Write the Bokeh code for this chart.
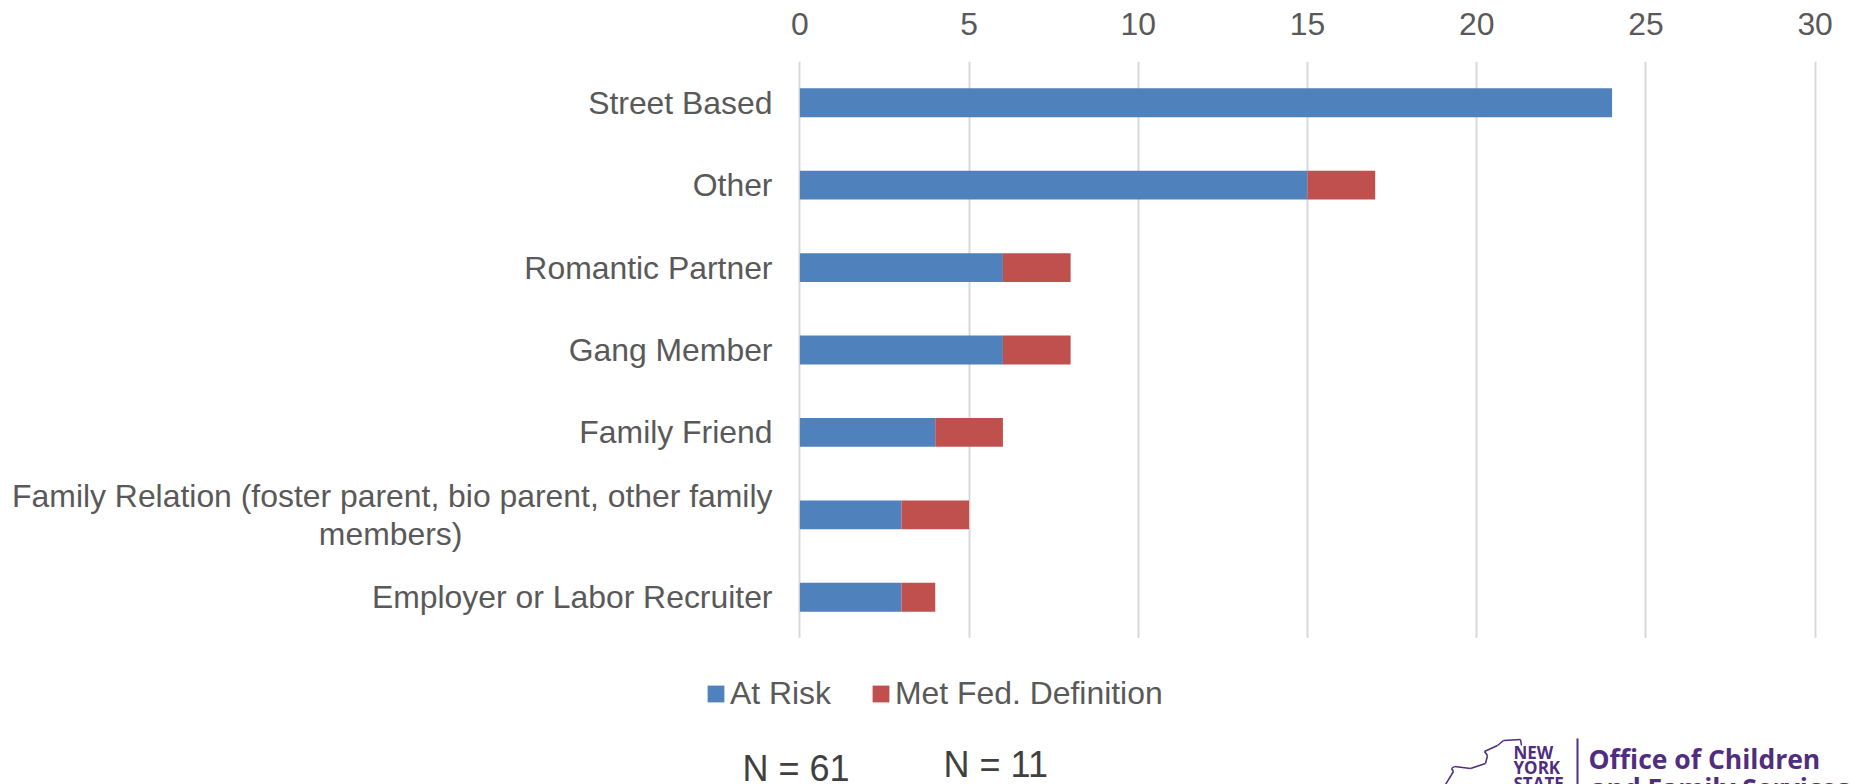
from bokeh.plotting import figure
from bokeh.layouts import column
from bokeh.models import (ColumnDataSource, FactorRange, Range1d, Legend, LegendItem, Label,
                          FixedTicker, BoxAnnotation, Arrow)
from bokeh.embed import file_html
from bokeh.resources import INLINE

categories = ["Street Based", "Other", "Romantic Partner", "Gang Member", "Family Friend",
              "Family Relation (foster parent, bio parent, other family\nmembers)" + "\u00a0" * 35,
              "Employer or Labor Recruiter"]
at_risk = [24, 15, 6, 6, 4, 3, 3]
met_fed = [0, 2, 2, 2, 2, 2, 1]
x_ticks = [0, 5, 10, 15, 20, 25, 30]
series_names = ["At Risk", "Met Fed. Definition"]
series_colors = ["#4F81BD", "#C0504D"]

W = 1850
H_MAIN, H_FOOT = 638, 146
GREY = "#595959"
PURPLE = "#4F2D7F"
FONT = "Liberation Sans"

p = figure(width=W, height=H_MAIN, output_backend="svg", toolbar_location=None,
           x_range=Range1d(-0.1, 30.1), y_range=FactorRange(factors=categories[::-1]),
           x_axis_location="above", frame_align=False,
           min_border_left=796, min_border_right=32, min_border_top=61, min_border_bottom=0)
p.outline_line_color = None
p.background_fill_color = "white"

source = ColumnDataSource(dict(cat=categories, at=at_risk, met=met_fed))
p.hbar_stack(["at", "met"], y="cat", height=0.35, fill_color=series_colors,
             line_color=None, source=source)

p.ygrid.visible = False
p.xgrid.grid_line_color = "#D9D9D9"
p.xgrid.grid_line_width = 2
p.xgrid.ticker = FixedTicker(ticks=x_ticks)

xa = p.xaxis[0]
xa.ticker = FixedTicker(ticks=x_ticks)
xa.axis_line_color = None
xa.major_tick_line_color = None
xa.minor_tick_line_color = None
xa.major_tick_out = 0
xa.major_tick_in = 0
xa.major_label_text_font = FONT
xa.major_label_text_font_size = "31.9px"
xa.major_label_text_color = GREY
xa.major_label_standoff = 27

ya = p.yaxis[0]
ya.axis_line_color = None
ya.major_tick_line_color = None
ya.minor_tick_line_color = None
ya.major_tick_out = 0
ya.major_tick_in = 0
ya.major_label_text_font = FONT
ya.major_label_text_font_size = "31.9px"
ya.major_label_text_color = GREY
ya.major_label_text_line_height = 1.07
ya.major_label_standoff = 24

# footer: legend, N counts and logo, positions given in page pixels
f = figure(width=W, height=H_FOOT, output_backend="svg", toolbar_location=None,
           x_range=Range1d(0, 1), y_range=Range1d(0, 1), frame_align=False,
           min_border_left=0, min_border_right=0, min_border_top=0, min_border_bottom=0)
f.axis.visible = False
f.grid.visible = False
f.outline_line_color = None

# legend keys: bars that lie outside this figure's ranges
swatches = [f.hbar(y=[5], left=[5], right=[6], height=1, fill_color=c, line_color=None) for c in series_colors]
legend = Legend(items=[LegendItem(label=n, renderers=[r]) for n, r in zip(series_names, swatches)],
                orientation="horizontal", location=(705, 72), padding=0, margin=0, spacing=39,
                glyph_width=21, glyph_height=21, label_standoff=4,
                label_text_font=FONT, label_text_font_size="31.9px", label_text_color=GREY,
                border_line_color=None, background_fill_alpha=0)
f.add_layout(legend, "center")


def fy(py):
    return 784 - py


def put(text, px, py, size, color, font=FONT, style="normal"):
    f.add_layout(Label(text=text, x=px, y=fy(py), x_units="screen", y_units="screen",
                       text_font=font, text_font_size=size, text_color=color, text_font_style=style,
                       text_baseline="alphabetic", text_align="left"))


put("N = 61", 742, 768, "36px", "#404040")
put("N = 11", 943, 764, "36px", "#404040")
put("NEW", 1513, 752, "17px", PURPLE, "Open Sans", "bold")
put("YORK", 1513, 767, "17px", PURPLE, "Open Sans", "bold")
put("STATE", 1513, 783, "17px", PURPLE, "Open Sans", "bold")
put("Office of Children", 1588, 758, "26.5px", PURPLE, "Open Sans", "bold")
put("and Family Services", 1590, 787, "26.5px", PURPLE, "Open Sans", "bold")

f.add_layout(BoxAnnotation(left=1576, right=1578, top=fy(738), bottom=0,
                           left_units="screen", right_units="screen", top_units="screen",
                           bottom_units="screen", fill_color=PURPLE, fill_alpha=1, line_color=None))
outline_x = [1445, 1453, 1451, 1454, 1470, 1485, 1487, 1484, 1497, 1503, 1520, 1521]
outline_y = [784, 771, 768, 766, 768, 763, 755, 751, 745, 740, 739, 745]
seg = ColumnDataSource(dict(x0=outline_x[:-1], x1=outline_x[1:],
                            y0=[fy(y) for y in outline_y[:-1]], y1=[fy(y) for y in outline_y[1:]]))
f.add_layout(Arrow(end=None, x_start="x0", y_start="y0", x_end="x1", y_end="y1", source=seg,
                   start_units="screen", end_units="screen", line_color=PURPLE, line_width=1.5))

open("out.html", "w").write(file_html(column(p, f, spacing=0), INLINE))
